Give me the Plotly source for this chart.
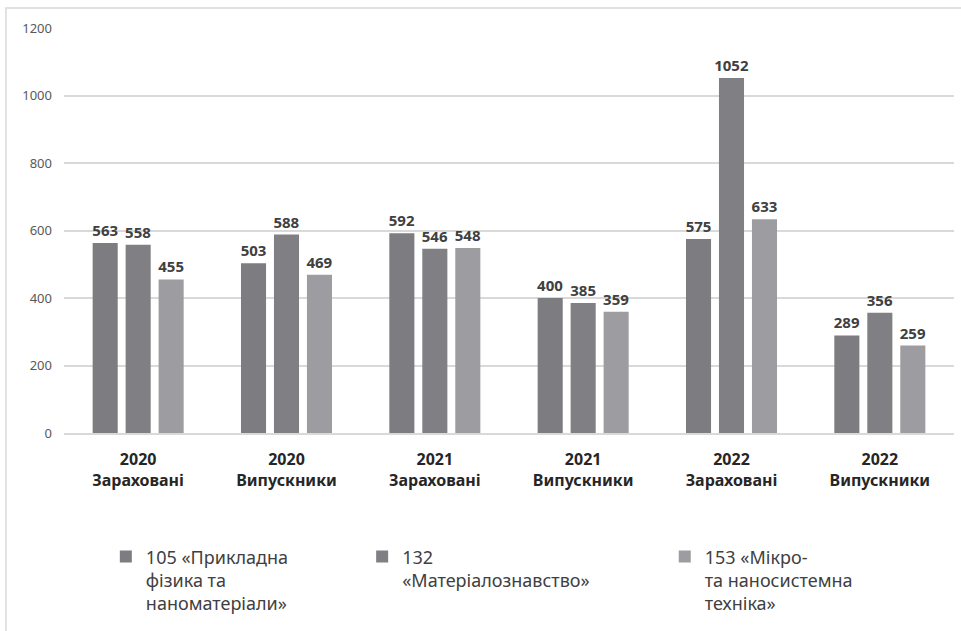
import plotly.graph_objects as go

categories = [
    "2020<br>Зараховані", "2020<br>Випускники",
    "2021<br>Зараховані", "2021<br>Випускники",
    "2022<br>Зараховані", "2022<br>Випускники",
]
series_names = [
    "105 «Прикладна<br>фізика та<br>наноматеріали»",
    "132<br>«Матеріалознавство»",
    "153 «Мікро-<br>та наносистемна<br>техніка»",
]
values_105 = [563, 503, 592, 400, 575, 289]
values_132 = [558, 588, 546, 385, 1052, 356]
values_153 = [455, 469, 548, 359, 633, 259]
y_ticks = [0, 200, 400, 600, 800, 1000, 1200]

colors = ["#7d7d81", "#808084", "#9d9da1"]
FONT = "Noto Sans"

fig = go.Figure()
legend_ids = ["legend", "legend2", "legend3"]
for vals, name, color, lg in zip([values_105, values_132, values_153],
                                 series_names, colors, legend_ids):
    fig.add_trace(go.Bar(
        x=categories, y=vals, name=name, legend=lg,
        marker=dict(color=color, line=dict(width=0)),
        text=[str(v) for v in vals], textposition="outside",
        constraintext="none",
        textfont=dict(family=FONT, size=15, color="#404040", weight="bold"),
        cliponaxis=False,
    ))

legend_common = dict(
    orientation="v", yanchor="top", y=-0.26, xanchor="left",
    valign="top",
    font=dict(family=FONT, size=18, color="#404040"),
    bgcolor="rgba(0,0,0,0)", itemwidth=30, tracegroupgap=0,
)
fig.update_layout(
    width=961, height=631,
    margin=dict(l=64, r=7, t=28, b=198),
    paper_bgcolor="white", plot_bgcolor="white",
    barmode="group", bargap=0.333, bargroupgap=0.24,
    showlegend=True,
    legend=dict(x=0.047, **legend_common),
    legend2=dict(x=0.335, **legend_common),
    legend3=dict(x=0.675, **legend_common),
    xaxis=dict(
        tickfont=dict(family=FONT, size=16, color="#262626", weight="bold"),
        showline=True, linecolor="#d9d9d9", linewidth=1.5,
        ticks="", showgrid=False, ticklabelstandoff=11,
    ),
    yaxis=dict(
        range=[0, 1200], tickvals=y_ticks,
        tickfont=dict(family=FONT, size=13, color="#595959"),
        showgrid=True, gridcolor="#d9d9d9", gridwidth=1.5,
        zeroline=False, ticks="", ticklen=0, ticklabelstandoff=11,
    ),
    shapes=[dict(
        type="rect", xref="paper", yref="paper",
        x0=-0.0652, x1=1.2, y0=-0.6, y1=1.0494,
        line=dict(color="#d9d9d9", width=1.5), fillcolor="rgba(0,0,0,0)",
        layer="below",
    )],
)

fig.write_html("out.html")
